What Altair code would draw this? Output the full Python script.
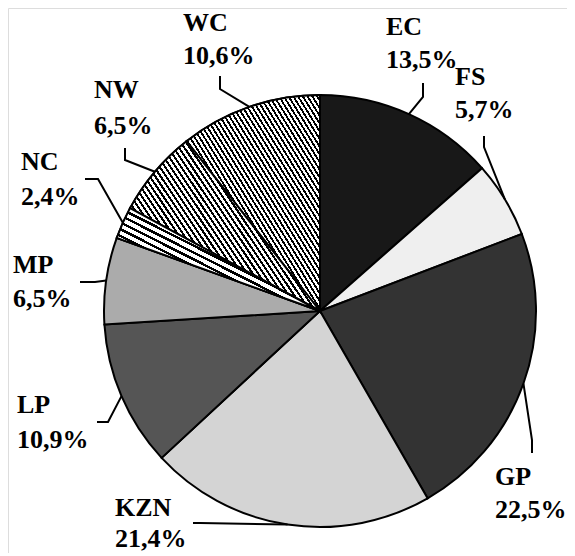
import math
import altair as alt
import pandas as pd

# ---- data ----
regions = ["EC", "FS", "GP", "KZN", "LP", "MP", "NC", "NW", "WC"]
shares = [13.5, 5.7, 22.5, 21.4, 10.9, 6.5, 2.4, 6.5, 10.6]

# ---- styles / layout (kept apart from the data) ----
greys = ["#181818", "#efefef", "#333333", "#d4d4d4", "#555555",
         "#ababab", "#a0a0a0", "#8c8c8c", "#858585"]
# striped fills (angle handled in the slice's bounding box): region -> (x1, y1, x2, y2, periods, black share)
stripes = {
    "WC": (0, 1, 1, 0, 56, 0.45),
    "NW": (0, 0.8, 1, 0.2, 48, 0.45),
    "NC": (0, 1, 1, 0, 30, 0.4),
}
center = (320, 311)
radius = 216
label_left = [386, 455, 495, 115, 17, 13, 21, 94, 183]
label_base1 = [35, 85, 485, 516, 413, 273, 170, 98, 31]
label_base2 = [68, 118, 518, 547, 448, 307, 205, 134, 64]
leader_start = [(423, 83), (484, 136), (532, 453), (193, 523), (97, 422),
                (80, 282), (85, 179), (125, 148), (220, 76)]
leader_elbow = [(423, 97), (484, 147), (532, 440), (200, 523), (108, 422),
                (95, 282), (98, 179), (125, 160), (220, 89)]

W, H = 559, 545
xs = alt.Scale(domain=[8, 8 + W], range=[0, W])
ys = alt.Scale(domain=[8, 8 + H], range=[0, H])

total = sum(shares)
tscale = alt.Scale(domain=[0, total], range=[0, 2 * math.pi])

pie_df = pd.DataFrame({"region": regions, "share": shares, "idx": range(len(regions))})

# leader lines: end point at the middle angle of each slice
rows = []
cum = 0.0
for i, (r, s) in enumerate(zip(regions, shares)):
    mid = (cum + s / 2) / total * 2 * math.pi
    cum += s
    ex = center[0] + radius * math.sin(mid)
    ey = center[1] - radius * math.cos(mid)
    pts = [leader_start[i], leader_elbow[i], (ex, ey)]
    for k, (px, py) in enumerate(pts):
        rows.append({"region": r, "pt": k, "px": px, "py": py})
line_df = pd.DataFrame(rows)

lab_rows = []
for i, (r, s) in enumerate(zip(regions, shares)):
    pct = f"{s:.1f}".replace(".", ",") + "%"
    lab_rows.append({"txt": r, "lx": label_left[i], "ly": label_base1[i]})
    lab_rows.append({"txt": pct, "lx": label_left[i], "ly": label_base2[i]})
lab_df = pd.DataFrame(lab_rows)


def stacked(chart):
    return chart.transform_window(
        cum="sum(share)", sort=[alt.SortField("idx")], frame=[None, 0]
    ).transform_calculate(start="datum.cum - datum.share")


base = stacked(alt.Chart(pie_df))

pie = base.mark_arc(stroke="black", strokeWidth=2, outerRadius=radius).encode(
    theta=alt.Theta("start:Q", scale=tscale),
    theta2="cum:Q",
    color=alt.Color("region:N", scale=alt.Scale(domain=regions, range=greys), legend=None),
    x=alt.value(center[0] - 8),
    y=alt.value(center[1] - 8),
)


def stripe_gradient(x1, y1, x2, y2, n, duty):
    stops = []
    for k in range(n):
        a = k / n
        b = (k + duty) / n
        c = (k + 1) / n
        stops += [
            {"offset": a, "color": "black"},
            {"offset": b, "color": "black"},
            {"offset": b, "color": "white"},
            {"offset": c, "color": "white"},
        ]
    return {"gradient": "linear", "x1": x1, "y1": y1, "x2": x2, "y2": y2, "stops": stops}


stripe_layers = []
for r, spec in stripes.items():
    stripe_layers.append(
        base.transform_filter(alt.datum.region == r)
        .mark_arc(fill=stripe_gradient(*spec), stroke="black", strokeWidth=2, outerRadius=radius)
        .encode(
            theta=alt.Theta("start:Q", scale=tscale),
            theta2="cum:Q",
            x=alt.value(center[0] - 8),
            y=alt.value(center[1] - 8),
        )
    )

leaders = alt.Chart(line_df).mark_line(color="black", strokeWidth=2).encode(
    x=alt.X("px:Q", scale=xs, axis=None),
    y=alt.Y("py:Q", scale=ys, axis=None),
    detail="region:N",
    order="pt:Q",
)

labels = alt.Chart(lab_df).mark_text(
    align="left", baseline="alphabetic", font="Liberation Serif, Times New Roman, serif",
    fontWeight="bold", fontSize=26, color="black",
).encode(
    x=alt.X("lx:Q", scale=xs, axis=None),
    y=alt.Y("ly:Q", scale=ys, axis=None),
    text="txt:N",
)

chart = alt.layer(pie, *stripe_layers, leaders, labels).properties(
    width=W, height=H, padding=0, autosize="none",
).configure_view(stroke=None).configure(background="white")

chart.save("out.html", embed_options={"renderer": "svg", "actions": False})
